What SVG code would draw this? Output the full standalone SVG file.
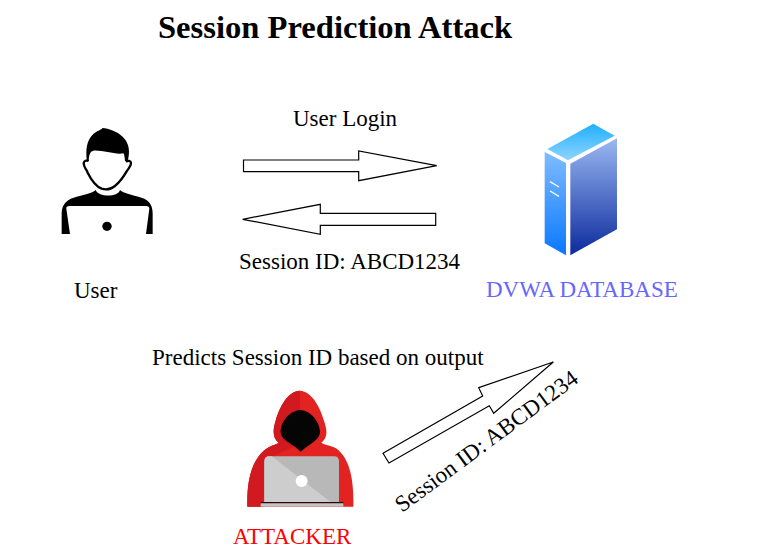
<svg xmlns="http://www.w3.org/2000/svg" width="768" height="549" viewBox="0 0 768 549">
<style>
text{font-family:"Liberation Serif","Times New Roman",serif;font-size:23px;fill:#000}
.arrow{fill:#fff;stroke:#000;stroke-width:1.2}
</style>
<defs>
<linearGradient id="top" x1="0.45" y1="0" x2="0.45" y2="1"><stop offset="0" stop-color="#1fb0ff"/><stop offset="1" stop-color="#8fd4ff"/></linearGradient>
<linearGradient id="side" x1="0" y1="0" x2="0" y2="1"><stop offset="0" stop-color="#7fbcff"/><stop offset="1" stop-color="#0a78ff"/></linearGradient>
<linearGradient id="front" x1="0" y1="0" x2="0" y2="1"><stop offset="0" stop-color="#9ab8f2"/><stop offset="1" stop-color="#0c2a9c"/></linearGradient>
</defs>
<rect width="768" height="549" fill="#fff"/>
<text id="title" x="158" y="38" style="font-size:32.6px;font-weight:bold">Session Prediction Attack</text>
<g id="connectors">
<polygon class="arrow" points="243.5,160 358.7,160 358.7,151 436.7,165.7 358.7,180.7 358.7,171.7 243.5,171.7"/>
<polygon class="arrow" points="435.7,213.3 320.3,213.3 320.3,204.3 242.7,219.3 320.3,234.3 320.3,225.3 435.7,225.3"/>
<polygon class="arrow" points="383,453.3 482.7,396 478.7,387.7 553.3,362 493.7,413.3 489.3,405.7 389,463"/>
<text x="293" y="126">User Login</text>
<text x="239" y="269">Session ID: ABCD1234</text>
<text x="152" y="365">Predicts Session ID based on output</text>
<text transform="translate(402,513) rotate(-36.5)">Session ID: ABCD1234</text>
</g>
<g id="user">
<g transform="translate(40,110) scale(.3333)">
<path d="M65 372V310C65 280 85 266 110 260C135 254 155 250 167 240C175 262 235 262 240 240C252 250 272 254 295 260C322 266 338 280 338 310V372H318L328 296Q328 288 318 288H88Q78 288 79 296L90 372Z"/>
<path d="M141 154C136 120 140 90 160 72C172 62 180 62 188 54C225 58 268 82 267 125C267 135 265 145 263 155L255 153C254 142 253 132 250 130C225 135 190 120 160 122C150 124 147 135 146 153Z"/>
<path d="M146 153C140 150 132 152 131 160C131 172 140 178 143 188C150 202 165 228 185 236C200 241 215 236 225 228C240 215 252 198 260 184C265 176 273 170 273 160C273 152 265 151 258 155" fill="none" stroke="#000" stroke-width="7"/>
<circle cx="201" cy="349" r="14"/>
</g>
<text x="74" y="298">User</text>
</g>
<g id="database">
<g transform="translate(530,110) scale(.3333)">
<polygon points="52,117 190,41 254,77 114,151" fill="url(#top)"/>
<polygon points="44,126 108,159 108,436 44,400" fill="url(#side)"/>
<polygon points="121,161 261,85 261,358 121,436" fill="url(#front)"/>
<path d="M60 215L87 231M60 243L87 259" stroke="#fff" stroke-width="4" fill="none"/>
</g>
<text x="486" y="297" style="fill:#6666ff">DVWA DATABASE</text>
</g>
<g id="attacker">
<g transform="translate(230,380) scale(.3333)">
<path d="M52 380C50 300 65 225 125 197C135 193 142 192 146 188C128 175 128 150 136 125C148 80 175 32 210 32C245 34 270 80 283 125C293 155 292 175 274 188C285 195 300 195 318 205C360 235 372 300 370 380Z" fill="#e32322"/>
<path d="M52 380C50 300 65 225 125 197C135 193 142 192 146 188C128 175 128 150 136 125C148 80 175 32 210 32V215L190 200L105 240L100 380Z" fill="#d01a1f"/>
<path d="M210 90C240 90 270 125 270 155C270 180 240 190 212 215C190 190 152 182 152 155C152 125 180 92 210 90Z" fill="#050505"/>
<path d="M103 366V245Q103 229 118 229H312Q327 229 327 245V366Z" fill="#b8b8b8"/>
<path d="M103 366V245Q103 229 118 229H125L302 366Z" fill="#cdcdcd"/>
<circle cx="215" cy="303" r="18" fill="#fff"/>
<rect x="92" y="366" width="248" height="4" fill="#111"/>
<rect x="92" y="370" width="248" height="10" fill="#c4c4c4"/>
</g>
<text x="233" y="543.5" style="fill:#ff0000">ATTACKER</text>
</g>
</svg>
